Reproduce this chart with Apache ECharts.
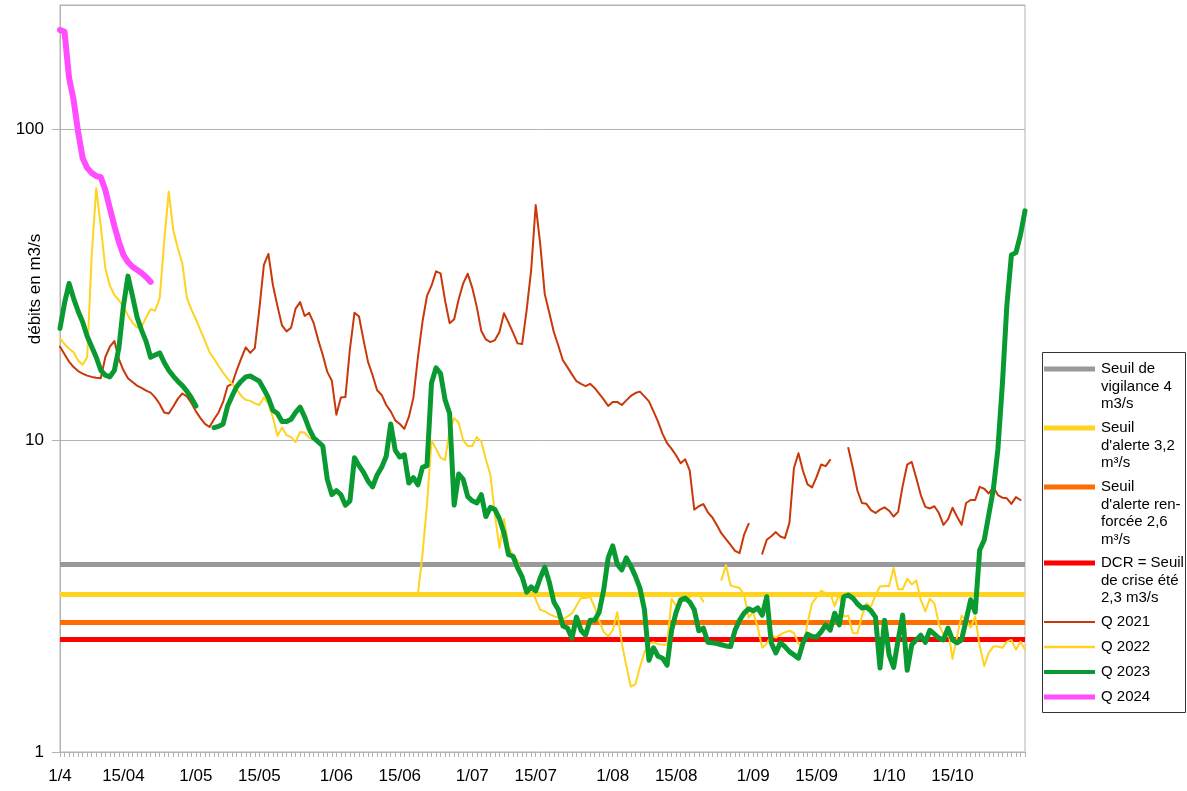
<!DOCTYPE html>
<html>
<head>
<meta charset="utf-8">
<title>Débits</title>
<script src="https://cdn.jsdelivr.net/npm/echarts@6.0.0/dist/echarts.min.js"></script>
<style>
  html, body { margin: 0; padding: 0; background: #fff; }
  #chart { width: 1187px; height: 791px; }
</style>
</head>
<body>
<div id="chart"></div>
<script>
// jours du 1/04 au 31/10
const monthDays = [30, 31, 30, 31, 31, 30, 31]
const tickLabels = ['1/4', '15/04', '1/05', '15/05', '1/06', '15/06', '1/07', '15/07',
  '1/08', '15/08', '1/09', '15/09', '1/10', '15/10']
const days = []
monthDays.forEach(function (n, m) {
  const mm = String(m + 4).padStart(2, '0')
  for (let d = 1; d <= n; d++) {
    days.push(days.length === 0 ? '1/4' : d + '/' + mm)
  }
})

// seuils en m3/s
const thresholds = [4, 3.2, 2.6, 2.3]
const thresholdNames = ['Seuil de vigilance 4 m3/s', "Seuil d'alerte 3,2 m³/s",
  "Seuil d'alerte renforcée 2,6 m³/s", 'DCR = Seuil de crise été 2,3 m3/s']

// débits journaliers
const q2021 = [
  20.0, 18.9, 17.9, 17.2, 16.7, 16.4, 16.15, 16.0, 15.9, 15.85,
  18.5, 20.0, 20.85, 18.25, 16.8, 15.85, 15.4, 15.0, 14.75, 14.45,
  14.25, 13.75, 13.1, 12.3, 12.2, 12.85, 13.6, 14.15, 13.85, 13.2,
  12.4, 11.8, 11.3, 11.05, 11.7, 12.3, 13.3, 14.95, 15.2, 16.8,
  18.35, 19.9, 19.1, 19.8, 26.4, 36.6, 39.7, 31.5, 27.0, 23.4,
  22.4, 23.0, 26.5, 27.8, 25.1, 25.7, 23.8, 21.0, 18.8, 16.6,
  15.55, 12.1, 13.75, 13.8, 19.7, 25.7, 25.0, 21.0, 17.85, 16.2,
  14.5, 14.0, 13.0, 12.4, 11.6, 11.3, 10.9, 11.9, 13.7, 18.5,
  24.0, 29.1, 31.4, 34.9, 34.4, 28.1, 23.8, 24.5, 28.4, 31.95,
  34.3, 30.9, 26.8, 22.45, 21.1, 20.7, 21.0, 22.3, 25.6, 23.9,
  22.2, 20.5, 20.4, 26.2, 35.3, 57.0, 42.7, 29.5, 25.7, 22.3,
  20.15, 18.1, 17.2, 16.3, 15.5, 15.2, 14.95, 15.2, 14.75, 14.15,
  13.55, 12.9, 13.3, 13.3, 13.0, 13.45, 13.9, 14.2, 14.35, 13.85,
  13.35, 12.4, 11.5, 10.5, 9.8, 9.4, 8.95, 8.45, 8.7, 8.0,
  6.0, 6.15, 6.25, 5.88, 5.66, 5.34, 5.03, 4.82, 4.62, 4.42,
  4.35, 4.99, 5.4, null, null, 4.33, 4.8, 4.93, 5.08, 4.92,
  4.86, 5.44, 8.16, 9.1, 7.98, 7.23, 7.07, 7.64, 8.37, 8.27,
  8.66, null, null, null, 9.46, 8.16, 6.91, 6.3, 6.26, 5.98,
  5.85, 6.0, 6.1, 5.95, 5.7, 5.9, 7.15, 8.37, 8.53, 7.58,
  6.68, 6.12, 6.05, 6.15, 5.85, 5.36, 5.58, 6.08, 5.69, 5.36,
  6.3, 6.44, 6.44, 7.1, 7.0, 6.76, 7.1, 6.68, 6.55, 6.52,
  6.26, 6.58, 6.44, null
]
const q2022 = [
  21.3, 20.4, 19.7, 19.2, 18.05, 17.5, 18.5, 39.4, 64.5, 48.8,
  35.8, 31.4, 29.3, 28.2, 26.9, 25.2, 23.9, 23.05, 23.15, 24.85,
  26.4, 26.1, 28.6, 43.5, 63.0, 47.4, 41.5, 37.0, 28.75, 26.3,
  24.5, 22.6, 20.85, 19.2, 18.3, 17.35, 16.5, 15.8, 15.2, 14.6,
  13.9, 13.5, 13.4, 13.15, 13.0, 13.75, 13.1, 11.85, 10.35, 11.0,
  10.4, 10.25, 9.88, 10.65, 10.6, 10.2, 10.05, 10.0, null, null,
  null, null, null, null, null, null, null, null, null, null,
  null, null, null, null, null, null, null, null, null, 3.21,
  4.29, 6.21, 10.0, 9.4, 8.8, 8.66, 10.8, 11.8, 11.4, 10.0,
  9.6, 9.6, 10.25, 9.9, 8.7, 7.75, 5.77, 4.52, 5.6, 4.58,
  4.26, 4.12, 3.6, 3.3, 3.35, 3.09, 2.86, 2.83, 2.77, 2.73,
  2.7, 2.67, 2.72, 2.79, 2.95, 3.12, 3.12, 3.15, 2.92, 2.64,
  2.43, 2.35, 2.46, 2.81, 2.24, 1.89, 1.62, 1.65, 1.87, 2.09,
  2.23, 2.25, 2.22, 2.21, 2.21, 3.1, 2.95, 3.04, 3.07, 3.14,
  3.23, 3.21, 3.04, null, null, null, 3.57, 3.98, 3.43, 3.39,
  3.36, 3.19, 2.7, 2.81, 2.51, 2.16, 2.23, 2.37, 2.33, 2.38,
  2.42, 2.45, 2.41, 2.23, 2.15, 2.6, 3.0, 3.14, 3.3, 3.23,
  3.23, 2.94, 3.23, 2.72, 2.74, 2.41, 2.4, 2.73, 3.0, 2.93,
  3.19, 3.4, 3.41, 3.41, 3.9, 3.33, 3.33, 3.6, 3.45, 3.55,
  3.08, 2.83, 3.1, 3.0, 2.57, 2.38, 2.49, 1.99, 2.35, 2.74,
  2.64, 2.51, 2.72, 2.19, 1.89, 2.08, 2.18, 2.18, 2.16, 2.26,
  2.29, 2.13, 2.26, 2.13
]
const q2023 = [
  22.9, 27.6, 31.9, 28.6, 26.0, 24.0, 21.6, 20.0, 18.5, 16.8,
  16.2, 16.0, 16.8, 19.8, 27.0, 33.7, 29.1, 24.9, 22.6, 20.8,
  18.5, 18.8, 19.1, 17.8, 16.8, 16.1, 15.5, 15.0, 14.4, 13.7,
  12.9, null, null, null, 11.0, 11.1, 11.3, 12.9, 13.9, 14.9,
  15.5, 16.0, 16.1, 15.8, 15.5, 14.6, 13.7, 12.5, 12.2, 11.5,
  11.5, 11.7, 12.3, 12.8, 11.9, 10.9, 10.2, 9.9, 9.6, 7.5,
  6.7, 6.9, 6.7, 6.2, 6.4, 8.8, 8.3, 7.9, 7.4, 7.1,
  7.75, 8.2, 8.9, 11.3, 9.3, 8.85, 9.0, 7.3, 7.6, 7.2,
  8.2, 8.3, 15.3, 17.1, 16.4, 13.5, 12.2, 6.2, 7.8, 7.5,
  6.6, 6.4, 6.3, 6.7, 5.7, 6.1, 6.0, 5.6, 5.05, 4.3,
  4.25, 3.9, 3.65, 3.26, 3.39, 3.29, 3.62, 3.92, 3.51, 3.03,
  2.86, 2.54, 2.5, 2.32, 2.71, 2.46, 2.37, 2.65, 2.65, 2.81,
  3.31, 4.2, 4.59, 4.01, 3.84, 4.2, 3.95, 3.67, 3.36, 2.86,
  1.97, 2.16, 2.03, 2.0, 1.9, 2.46, 2.81, 3.08, 3.12, 3.03,
  2.86, 2.45, 2.5, 2.25, 2.24, 2.23, 2.21, 2.19, 2.18, 2.46,
  2.65, 2.79, 2.88, 2.84, 2.9, 2.75, 3.15, 2.24, 2.08, 2.24,
  2.18, 2.1, 2.05, 2.0, 2.24, 2.39, 2.35, 2.34, 2.43, 2.56,
  2.46, 2.79, 2.56, 3.15, 3.19, 3.12, 2.99, 2.9, 2.92, 2.84,
  2.71, 1.86, 2.65, 2.05, 1.87, 2.29, 2.75, 1.83, 2.21, 2.29,
  2.37, 2.25, 2.46, 2.39, 2.32, 2.29, 2.5, 2.29, 2.24, 2.29,
  2.65, 3.08, 2.81, 4.45, 4.79, 5.77, 6.94, 9.32, 15.1, 27.2,
  39.4, 40.1, 45.7, 54.6
]
const q2024 = [
  208, 205, 146, 124, 97.8, 80.7, 75, 72.2, 70.6, 70,
  63.7, 55.7, 48.8, 43.4, 39.4, 37.4, 36.1, 35.3, 34.5, 33.5,
  32.3
]

const font = '"Liberation Sans", Arial, sans-serif'
const thresholdColors = ['#999999', '#ffd320', '#ff6d00', '#ff0000']
const flowSeries = [
  { name: 'Q 2021', data: q2021, color: '#c9380a', width: 2 },
  { name: 'Q 2022', data: q2022, color: '#ffd320', width: 2 },
  { name: 'Q 2023', data: q2023, color: '#0a9a32', width: 5 },
  { name: 'Q 2024', data: q2024, color: '#ff4dff', width: 6 }
]

let chartDom = document.getElementById('chart')
let myChart = echarts.init(chartDom)

let series = []
thresholds.forEach(function (v, i) {
  series.push({
    name: thresholdNames[i],
    type: 'line',
    data: [],
    silent: true,
    markLine: {
      silent: true,
      z: 1,
      symbol: 'none',
      label: { show: false },
      lineStyle: { color: thresholdColors[i], width: 5, type: 'solid' },
      emphasis: { disabled: true },
      data: [{ yAxis: v }]
    }
  })
})
flowSeries.forEach(function (s) {
  series.push({
    name: s.name,
    type: 'line',
    data: s.data,
    showSymbol: false,
    connectNulls: false,
    color: s.color,
    lineStyle: { color: s.color, width: s.width, join: 'round', cap: 'round' }
  })
})

// légende dessinée à la main (trait aligné sur la première ligne du texte)
const legendItems = [
  { text: 'Seuil de\nvigilance 4\nm3/s', color: thresholdColors[0], width: 5, y: 369 },
  { text: "Seuil\nd'alerte 3,2\nm³/s", color: thresholdColors[1], width: 5, y: 428 },
  { text: "Seuil\nd'alerte ren-\nforcée 2,6\nm³/s", color: thresholdColors[2], width: 5, y: 487 },
  { text: 'DCR = Seuil\nde crise été\n2,3 m3/s', color: thresholdColors[3], width: 5, y: 563 },
  { text: 'Q 2021', color: flowSeries[0].color, width: 2, y: 622 },
  { text: 'Q 2022', color: flowSeries[1].color, width: 2.5, y: 647 },
  { text: 'Q 2023', color: flowSeries[2].color, width: 4, y: 672 },
  { text: 'Q 2024', color: flowSeries[3].color, width: 5, y: 697 }
]
let graphics = [{
  type: 'rect',
  shape: { x: 1042.5, y: 352.5, width: 143, height: 360 },
  style: { fill: '#fff', stroke: '#333', lineWidth: 1 }
}]
legendItems.forEach(function (it) {
  graphics.push({
    type: 'line',
    shape: { x1: 1044, y1: it.y, x2: 1095, y2: it.y },
    style: { stroke: it.color, lineWidth: it.width }
  })
  graphics.push({
    type: 'text',
    x: 1101,
    y: it.y - 8.8,
    style: { text: it.text, font: '15px ' + font, fill: '#000', lineHeight: 17.6, verticalAlign: 'top' }
  })
})
graphics.push({
  type: 'text',
  x: 35,
  y: 289,
  rotation: Math.PI / 2,
  style: { text: 'débits en m3/s', font: '17px ' + font, fill: '#000', align: 'center', verticalAlign: 'middle' }
})

let option = {
  animation: false,
  textStyle: { fontFamily: font },
  grid: {
    left: 60, right: 162, top: 5, bottom: 39,
    show: true, borderColor: '#b3b3b3', borderWidth: 1
  },
  xAxis: {
    type: 'category',
    boundaryGap: false,
    data: days,
    axisLine: { lineStyle: { color: '#b3b3b3' } },
    axisTick: { interval: 0, length: 5, lineStyle: { color: '#b3b3b3' } },
    axisLabel: {
      interval: function (i, v) { return tickLabels.indexOf(v) >= 0 },
      color: '#000',
      fontSize: 17,
      margin: 16
    },
    splitLine: { show: false }
  },
  yAxis: {
    type: 'log',
    logBase: 10,
    min: 1,
    max: 250,
    axisLine: { show: true, lineStyle: { color: '#b3b3b3' } },
    axisTick: { show: true, length: 8, lineStyle: { color: '#b3b3b3' } },
    axisLabel: {
      color: '#000',
      fontSize: 17,
      margin: 16,
      showMaxLabel: false,
      formatter: function (v) {
        const lg = Math.log10(v)
        return Math.abs(lg - Math.round(lg)) < 1e-6 ? String(Math.round(v)) : ''
      }
    },
    splitLine: { show: true, lineStyle: { color: '#b3b3b3' } }
  },
  graphic: graphics,
  series: series
}

option && myChart.setOption(option)
</script>
</body>
</html>
